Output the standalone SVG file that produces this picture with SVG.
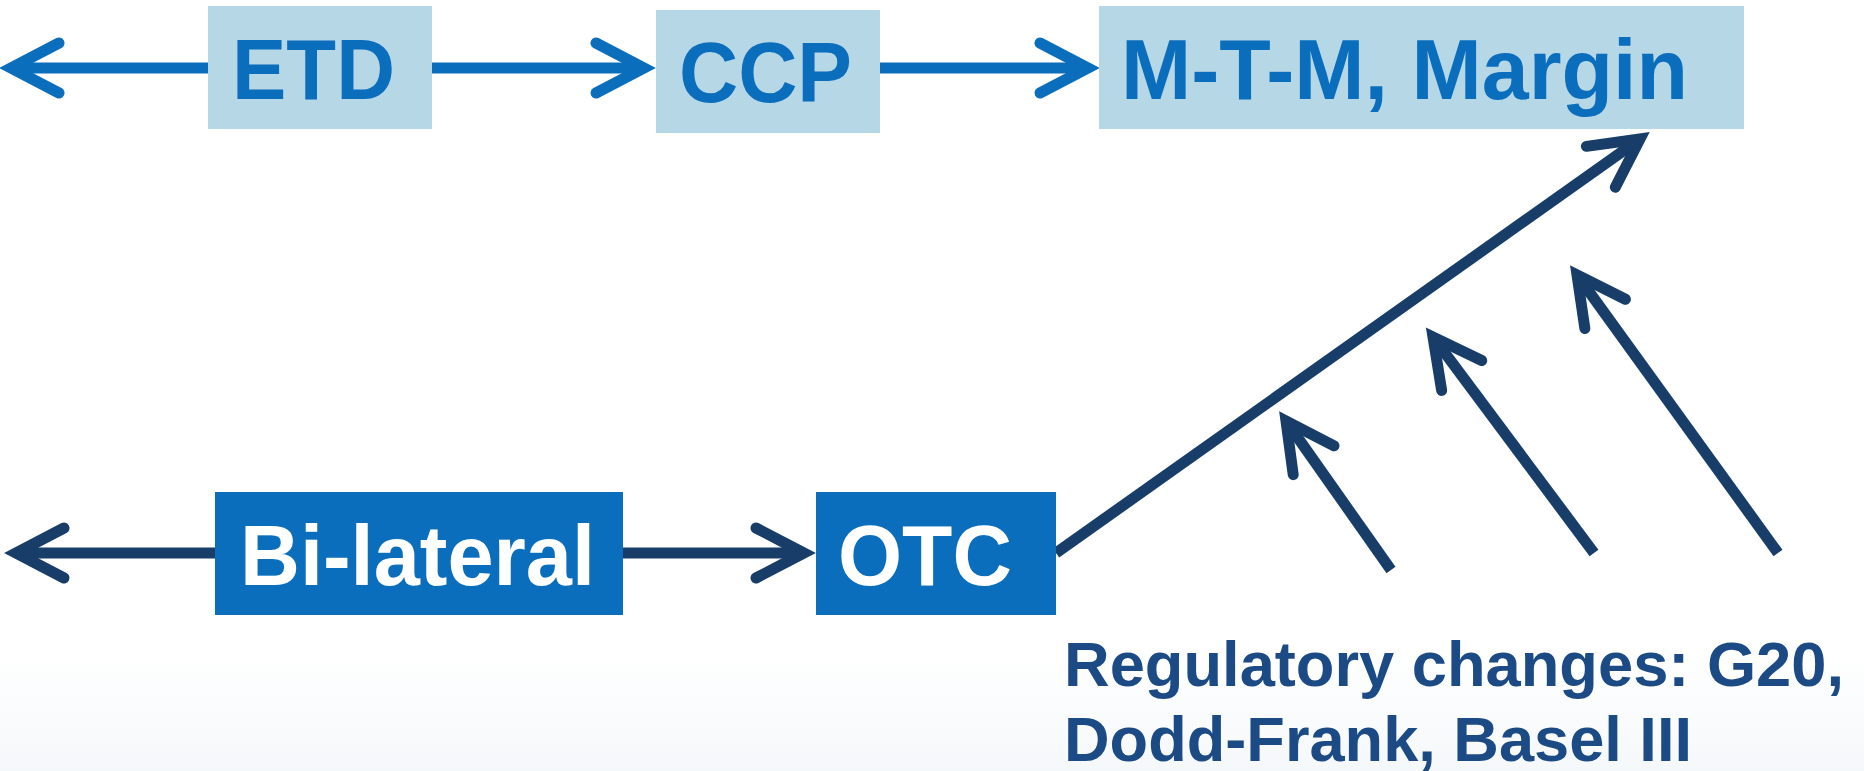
<svg xmlns="http://www.w3.org/2000/svg" width="1864" height="771" viewBox="0 0 1864 771">
  <style>
    .label { font-family: "Liberation Sans", Arial, sans-serif; font-weight: bold; font-size: 86px; }
    .top-box { fill: #b6d7e6; }
    .top-text { fill: #0b6ebd; }
    .low-box { fill: #0b6ebd; }
    .low-text { fill: #ffffff; }
    .note { font-family: "Liberation Sans", Arial, sans-serif; font-weight: bold; font-size: 63px; fill: #1b4a84; }
    .link-blue { fill: none; stroke: #0b6ebd; stroke-width: 11; stroke-linecap: butt; marker-end: url(#chev-blue); }
    .link-navy { fill: none; stroke: #173d68; stroke-width: 11; stroke-linecap: butt; marker-end: url(#chev-navy); }
  </style>
  <defs>
    <linearGradient id="floor" x1="0" y1="0" x2="0" y2="1">
      <stop offset="0" stop-color="#ffffff"/>
      <stop offset="1" stop-color="#f5f8fa"/>
    </linearGradient>
    <marker id="chev-blue" markerUnits="userSpaceOnUse" orient="auto" refX="0" refY="0" markerWidth="120" markerHeight="120" overflow="visible">
      <path d="M -48 -25 L 0 0 L -48 25" fill="none" stroke="#0b6ebd" stroke-width="11" stroke-linejoin="miter" stroke-miterlimit="10" stroke-linecap="round"/>
    </marker>
    <marker id="chev-navy" markerUnits="userSpaceOnUse" orient="auto" refX="0" refY="0" markerWidth="120" markerHeight="120" overflow="visible">
      <path d="M -48 -25 L 0 0 L -48 25" fill="none" stroke="#173d68" stroke-width="11" stroke-linejoin="miter" stroke-miterlimit="10" stroke-linecap="round"/>
    </marker>
  </defs>

  <rect x="0" y="0" width="1864" height="771" fill="#ffffff"/>
  <rect x="0" y="650" width="1864" height="121" fill="url(#floor)"/>

  <!-- connectors -->
  <g id="connectors">
    <path class="link-blue" d="M 208 68 L 11 68"/>
    <path class="link-blue" d="M 432 68 L 644 68"/>
    <path class="link-blue" d="M 879 68 L 1088 68"/>
    <path class="link-navy" d="M 215 553 L 16 553"/>
    <path class="link-navy" d="M 623 553 L 804 553"/>
    <path class="link-navy" d="M 1056 553 L 1640 139"/>
    <path class="link-navy" d="M 1391 570 L 1286 421"/>
    <path class="link-navy" d="M 1594 553 L 1433 337"/>
    <path class="link-navy" d="M 1778 553 L 1577 275"/>
  </g>

  <!-- exchange-traded row -->
  <g id="etd">
    <rect class="top-box" x="208" y="6" width="224" height="123"/>
    <text class="label top-text" x="232" y="99" textLength="163" lengthAdjust="spacingAndGlyphs">ETD</text>
  </g>
  <g id="ccp">
    <rect class="top-box" x="656" y="10" width="224" height="123"/>
    <text class="label top-text" x="679" y="102" textLength="173" lengthAdjust="spacingAndGlyphs">CCP</text>
  </g>
  <g id="mtm-margin">
    <rect class="top-box" x="1099" y="6" width="645" height="123"/>
    <text class="label top-text" x="1121" y="99" textLength="567" lengthAdjust="spacingAndGlyphs">M-T-M, Margin</text>
  </g>

  <!-- over-the-counter row -->
  <g id="bilateral">
    <rect class="low-box" x="215" y="492" width="408" height="123"/>
    <text class="label low-text" x="240" y="585" textLength="355" lengthAdjust="spacingAndGlyphs">Bi-lateral</text>
  </g>
  <g id="otc">
    <rect class="low-box" x="816" y="492" width="240" height="123"/>
    <text class="label low-text" x="838" y="585" textLength="174" lengthAdjust="spacingAndGlyphs">OTC</text>
  </g>

  <!-- caption -->
  <g id="regulatory">
    <text class="note" x="1064" y="686" textLength="780" lengthAdjust="spacingAndGlyphs">Regulatory changes: G20,</text>
    <text class="note" x="1064" y="761" textLength="628" lengthAdjust="spacingAndGlyphs">Dodd-Frank, Basel III</text>
  </g>
</svg>
